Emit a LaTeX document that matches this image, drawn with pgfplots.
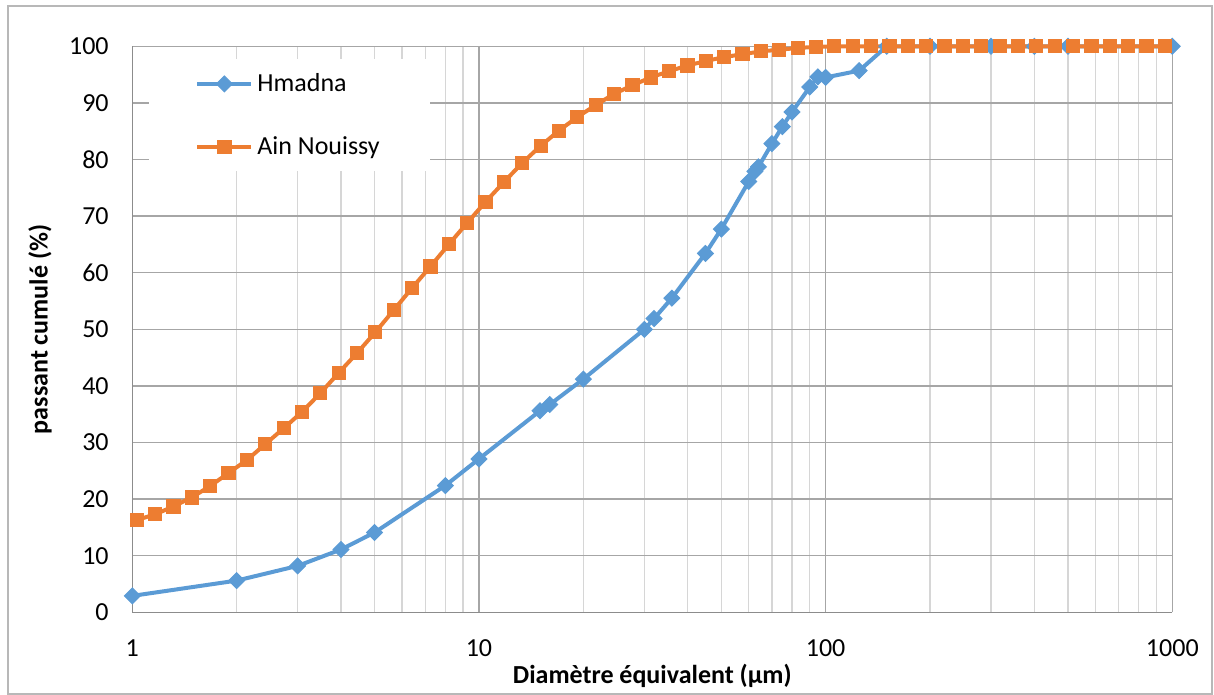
\documentclass[border=0pt]{standalone}
\usepackage{fontspec}
\setmainfont{Carlito}
\usepackage{pgfplots}
\pgfplotsset{compat=1.18}
\definecolor{cblue}{HTML}{5B9BD5}
\definecolor{corange}{HTML}{ED7D31}
\definecolor{gmaj}{HTML}{A6A6A6}
\definecolor{gmin}{HTML}{D6D6D6}
\definecolor{gaxis}{HTML}{8C8C8C}
\definecolor{gborder}{HTML}{B8B8B8}
\begin{document}
\begin{tikzpicture}
\useasboundingbox (0,0) rectangle (607pt,347.5pt);
\draw[gborder,line width=0.7pt] (4pt,0.5pt) rectangle (606pt,344.5pt);
\begin{axis}[
  at={(66.15pt,41.35pt)}, anchor=south west,
  scale only axis, width=520pt, height=283pt,
  xmode=log, xmin=1, xmax=1000, ymin=0, ymax=100,
  xtick={1,10,100,1000}, xticklabels={1,10,100,1000},
  minor xtick={2,3,4,5,6,7,8,9,20,30,40,50,60,70,80,90,200,300,400,500,600,700,800,900},
  ytick={0,10,...,100},
  xmajorgrids, xminorgrids, ymajorgrids,
  major grid style={gmaj,line width=0.65pt},
  minor grid style={gmin,line width=0.65pt},
  axis lines*=left, axis line style={gaxis,line width=0.75pt,-},
  major tick length=0pt, minor tick length=0pt,
  tick style={draw=none},
  /pgf/number format/assume math mode=true,
  tick label style={font=\fontsize{13}{15}\selectfont},
  xticklabel style={yshift=-10pt},
  yticklabel style={xshift=-8.3pt},
  xlabel={\textbf{Diamètre équivalent (µm)}},
  ylabel={\textbf{passant cumulé (\%)}},
  label style={font=\fontsize{13}{15}\selectfont},
  xlabel style={at={(axis description cs:0.5,-0.1125)},anchor=center},
  ylabel style={at={(axis description cs:-0.0888,0.5)},anchor=center},
  clip=false,
  legend cell align=left,
  legend style={at={(axis description cs:0.0161,0.9776)}, anchor=north west,
    draw=none, fill=white, inner xsep=23pt, inner ysep=5pt, row sep=17pt,
    font=\fontsize{13}{15}\selectfont},
  legend image code/.code={\draw[mark repeat=2,mark phase=2,#1] plot coordinates {(0pt,0pt) (13.5pt,0pt) (27pt,0pt)};},
]
\addplot[cblue, line width=2pt, mark=square*, mark size=2.8pt, mark options={rotate=45,fill=cblue,draw=cblue,line width=0.5pt}] coordinates {
(1,2.9) (2,5.6) (3,8.2) (4,11.1) (5,14.1) (8,22.4) (10,27.1) (15,35.6) (16,36.7) (20,41.2)
(30,50.0) (32,51.9) (36,55.5) (45,63.4) (50,67.7) (60,76.1) (62.5,77.9) (64,78.7) (70,82.8)
(75,85.8) (80,88.4) (90,92.8) (95,94.6) (100,94.5) (125,95.7) (150,100) (200,100) (300,100)
(400,100) (500,100) (1000,100)
};
\addlegendentry{Hmadna}
\addplot[corange, line width=2pt, mark=square*, mark size=3.3pt, mark options={fill=corange,draw=corange,line width=0.5pt}] coordinates {
(1.030,16.3) (1.163,17.3) (1.314,18.7) (1.484,20.3) (1.677,22.3) (1.894,24.6) (2.141,26.9)
(2.418,29.7) (2.732,32.5) (3.086,35.4) (3.486,38.7) (3.939,42.3) (4.449,45.8) (5.026,49.5)
(5.678,53.4) (6.414,57.3) (7.246,61.1) (8.185,65.0) (9.247,68.8) (10.44,72.5) (11.80,76.0)
(13.33,79.4) (15.06,82.4) (17.01,85.1) (19.22,87.5) (21.71,89.6) (24.53,91.6) (27.71,93.1)
(31.30,94.5) (35.36,95.6) (39.95,96.6) (45.13,97.4) (50.98,98.1) (57.60,98.6) (65.06,99.1)
(73.50,99.4) (83.04,99.7) (93.80,99.9) (105.97,100) (119.72,100) (135.24,100) (152.8,100)
(172.6,100) (195.0,100) (220.3,100) (248.8,100) (281.1,100) (317.6,100) (358.8,100)
(405.3,100) (457.9,100) (517.3,100) (584.4,100) (660.2,100) (745.8,100) (842.5,100) (951.7,100)
};
\addlegendentry{Ain Nouissy}
\end{axis}
\end{tikzpicture}
\end{document}
